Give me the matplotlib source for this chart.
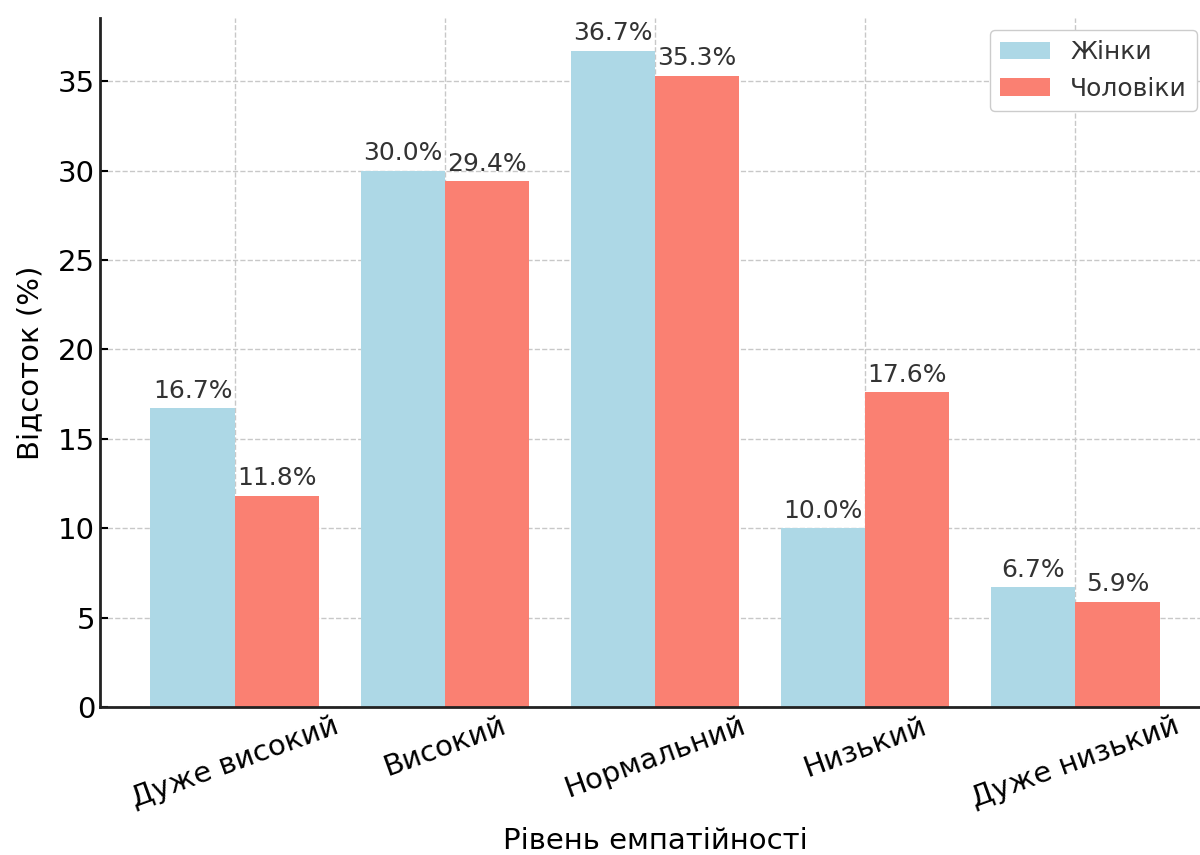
import numpy as np
import matplotlib.pyplot as plt

levels = ['Дуже високий', 'Високий', 'Нормальний', 'Низький', 'Дуже низький']
women = [16.7, 30.0, 36.7, 10.0, 6.7]
men = [11.8, 29.4, 35.3, 17.6, 5.9]

plt.rcParams['font.family'] = ['DejaVu Sans']

fig = plt.figure(figsize=(12, 8.55), dpi=100)
ax = fig.add_axes([100 / 1200, 148 / 855, 1110 / 1200, 689 / 855])

x = np.arange(len(levels))
w = 0.4
b1 = ax.bar(x - w / 2, women, w, color='lightblue', label='Жінки', zorder=2)
b2 = ax.bar(x + w / 2, men, w, color='salmon', label='Чоловіки', zorder=2)

for bars in (b1, b2):
    for rect in bars:
        h = rect.get_height()
        ax.annotate(f'{h:.1f}%', (rect.get_x() + rect.get_width() / 2, h),
                    xytext=(0, 4), textcoords='offset points',
                    ha='center', va='bottom', fontsize=18, color='#333333')

ax.set_xticks(x)
ax.set_xticklabels(levels, rotation=20, ha='center', fontsize=21)
ax.tick_params(axis='y', labelsize=21)
ax.tick_params(direction='in', length=6, width=1.5)
ax.set_xlabel('Рівень емпатійності', fontsize=21, labelpad=10)
ax.set_ylabel('Відсоток (%)', fontsize=21, labelpad=10)

ax.grid(True, linestyle='--', color='#c8c8c8', linewidth=1, zorder=0)
ax.set_axisbelow(True)
for s in ('top', 'right'):
    ax.spines[s].set_visible(False)
for s in ('left', 'bottom'):
    ax.spines[s].set_linewidth(2)
    ax.spines[s].set_color('#222222')

leg = ax.legend(loc='upper right', bbox_to_anchor=(1097 / 1110, 1 - 12 / 689),
                borderaxespad=0, fontsize=18, framealpha=1, edgecolor='#cccccc')
for t in leg.get_texts():
    t.set_color('#333333')

fig.savefig('out.png', dpi=100)
